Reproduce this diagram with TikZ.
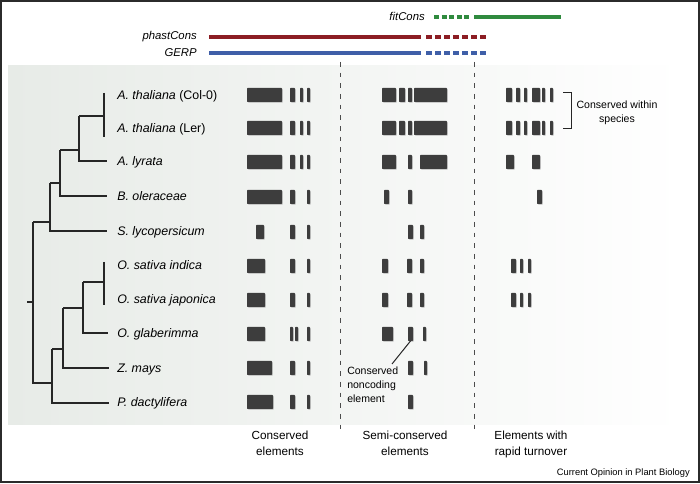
\documentclass[tikz,border=0pt]{standalone}
\usepackage{fontspec}
\setmainfont{Liberation Sans}
\definecolor{pcred}{HTML}{8C1D24}
\definecolor{gerpblue}{HTML}{3F5FA8}
\definecolor{fitgreen}{HTML}{2F8A3E}
\definecolor{blockgray}{HTML}{3D3D3D}
\definecolor{panelleft}{HTML}{E7EBE7}
\definecolor{panelmid}{HTML}{F4F5F4}
\definecolor{framegray}{HTML}{2B2B2B}
\begin{document}
\begin{tikzpicture}[x=0.75pt,y=-0.75pt,
  lbl/.style={font=\fontsize{9.3}{11}\selectfont, anchor=base west, inner sep=0},
  toplbl/.style={font=\fontsize{8.5}{10}\selectfont\itshape, anchor=base east, inner sep=0},
  collbl/.style={font=\fontsize{8.8}{12}\selectfont, align=center, anchor=north, inner sep=0},
  note/.style={font=\fontsize{7.9}{10.5}\selectfont, inner sep=0},
  tree/.style={line width=0.9pt, draw=black!85},
  sep/.style={line width=0.75pt, draw=black!70, dash pattern=on 3.6pt off 4.4pt},
  elem/.style={fill=blockgray, rounded corners=0.4pt},
  elemshadow/.style={fill=black!40, opacity=0.45, rounded corners=0.6pt},
  trackbar/.style={line width=3pt}
]
\useasboundingbox (0,0) rectangle (700,484);
% panel
\shade[left color=panelleft, middle color=panelmid, right color=white] (8,66) rectangle (682,425);

% top tracks
\node[toplbl] (fit) at (425,21) {fitCons};
\node[toplbl] (phast) at (197,40) {phastCons};
\node[toplbl] (gerp) at (197,57) {GERP};
\draw[trackbar, fitgreen, dash pattern=on 3.75pt off 1.875pt] (434,17) -- (470,17);
\draw[trackbar, fitgreen] (474,17) -- (561,17);
\draw[trackbar, pcred] (209,37) -- (421,37);
\draw[trackbar, pcred, dash pattern=on 4.5pt off 2.25pt] (426,37) -- (487,37);
\draw[trackbar, gerpblue] (209,53) -- (421,53);
\draw[trackbar, gerpblue, dash pattern=on 4.5pt off 2.25pt] (426,53) -- (487,53);

% separators
\draw[sep] (340,62) -- (340,432);
\draw[sep] (474,62) -- (474,432);

% species labels
\node[lbl] (s1) at (117,99.5) {\itshape A. thaliana\upshape\ (Col-0)};
\node[lbl] (s2) at (117,132.5) {\itshape A. thaliana\upshape\ (Ler)};
\node[lbl] (s3) at (117,165.5) {\itshape A. lyrata};
\node[lbl] (s4) at (117,200.5) {\itshape B. oleraceae};
\node[lbl] (s5) at (117,235.5) {\itshape S. lycopersicum};
\node[lbl] (s6) at (117,269.5) {\itshape O. sativa indica};
\node[lbl] (s7) at (117,303.5) {\itshape O. sativa japonica};
\node[lbl] (s8) at (117,337.5) {\itshape O. glaberimma};
\node[lbl] (s9) at (117,372.5) {\itshape Z. mays};
\node[lbl] (s10) at (117,406.5) {\itshape P. dactylifera};

% tree
\draw[tree] (104,93) -- (104,137);
\draw[tree] (79,116) -- (104,116);
\draw[tree] (79,116) -- (79,161) -- (107,161);
\draw[tree] (60,150) -- (79,150);
\draw[tree] (60,150) -- (60,196) -- (107,196);
\draw[tree] (50,183) -- (60,183);
\draw[tree] (50,183) -- (50,231) -- (107,231);
\draw[tree] (33,222) -- (50,222);
\draw[tree] (33,222) -- (33,383) -- (52,383);
\draw[tree] (27,302) -- (33,302);
\draw[tree] (104,262) -- (104,305);
\draw[tree] (83,282) -- (104,282);
\draw[tree] (83,282) -- (83,333) -- (108,333);
\draw[tree] (63,308) -- (83,308);
\draw[tree] (63,308) -- (63,368) -- (109,368);
\draw[tree] (52,349) -- (63,349);
\draw[tree] (52,349) -- (52,403) -- (109,403);

% element blocks
\foreach \y/\segs in {
  95/{247/282,290/295,300/303,307/310,382/396,399/405,408/412,414/447,506/512,516/520,524/527,532/540,542/545,550/553},
  128/{247/282,290/295,300/303,307/310,382/396,399/405,408/412,414/447,506/512,516/520,524/527,532/540,542/545,550/553},
  162/{247/282,290/295,300/303,307/310,382/396,408/412,420/447,506/514,532/540},
  197/{247/282,290/295,307/310,384/389,408/412,537/542},
  232/{256/264,290/295,307/310,408/413,420/424},
  266/{247/265,290/295,307/310,382/388,407/412,420/424,511/516,520/523,528/531},
  300/{247/265,290/295,307/310,382/388,407/412,420/424,511/516,520/523,528/531},
  334/{247/265,290/293,295/298,307/310,382/393,408/413,423/426},
  368/{247/272,290/295,307/310,408/413,424/427},
  402/{247/273,290/295,307/310,408/413}}{
  \foreach \a/\b in \segs {
    \fill[elemshadow] (\a+0.8,\y-6.2) rectangle (\b+0.8,\y+7.8);
    \fill[elem] (\a,\y-7) rectangle (\b,\y+7);
  }
}

% noncoding element annotation
\coordinate (nce) at (410.5,341);
\node[note, anchor=north west, align=left] (ncetext) at (347,367) {Conserved\\noncoding\\element};
\draw[line width=0.75pt, black!85] (nce) -- (392,364);

% bracket
\draw[line width=0.75pt, black!85] (563,93) -- (571,93) -- (571,129) -- (563,129);
\node[note, align=center] (within) at (617,112.5) {Conserved within\\species};

% column labels
\node[collbl] (c1) at (280,431) {Conserved\\elements};
\node[collbl] (c2) at (405,431) {Semi-conserved\\elements};
\node[collbl] (c3) at (531,431) {Elements with\\rapid turnover};
\node[font=\fontsize{7}{8}\selectfont, anchor=base east, inner sep=0] (credit) at (690,475.5) {Current Opinion in Plant Biology};

% frame
\draw[framegray, line width=1.5pt] (1,1) rectangle (698.5,482.5);
\end{tikzpicture}
\end{document}
